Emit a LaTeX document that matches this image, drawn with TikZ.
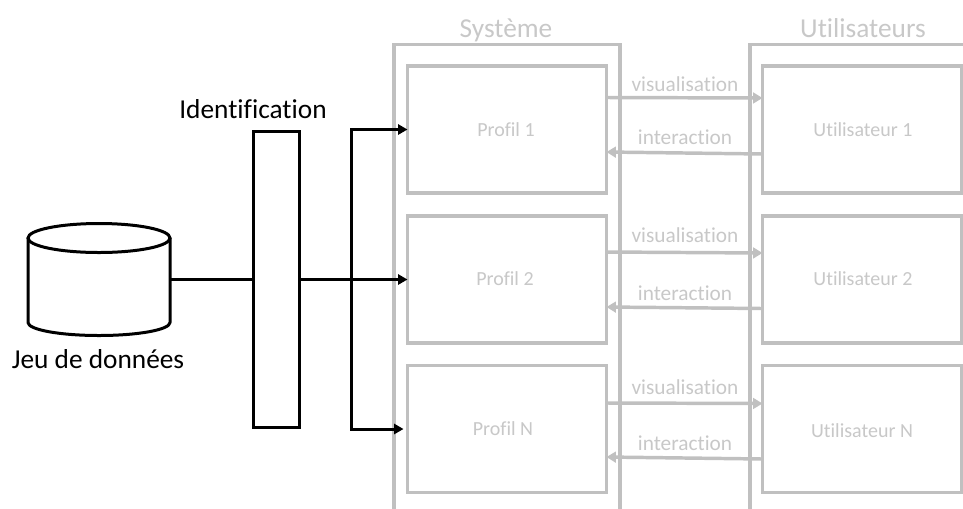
\documentclass[tikz,border=0pt]{standalone}
\usepackage{fontspec}
\setmainfont{Carlito}[RawFeature={-liga}]
\usetikzlibrary{arrows.meta}
\definecolor{ligne}{HTML}{C0C0C0}
\definecolor{texte}{HTML}{C8C8C8}
\tikzset{
  x=0.75pt,y=-0.75pt,
  inner sep=0pt,outer sep=0pt,
  noir/.style={draw=black,line width=2.25pt},
  gris/.style={draw=ligne,line width=2.6pt},
  boite/.style={gris,fill=white,minimum width=199*0.75pt,minimum height=127*0.75pt},
  nomboite/.style={text=texte,font=\fontsize{15}{18}\selectfont},
  etiq/.style={text=texte,font=\fontsize{16}{19}\selectfont},
  titre/.style={text=texte,anchor=base,font=\fontsize{20.5}{24}\selectfont},
  grand/.style={text=black,anchor=base,font=\fontsize{20.5}{24}\selectfont},
  fnoir/.style={noir,-{Triangle[length=7pt,width=7.5pt]}},
  fgris/.style={gris,-{Triangle[length=7pt,width=8pt]}},
}
\begin{document}
\begin{tikzpicture}
\useasboundingbox (0,0) rectangle (963,508);
% outer frames (open at the picture's edges)
\coordinate (sysBL) at (394,520);
\coordinate (sysTL) at (394,44.5);
\coordinate (sysTR) at (620,44.5);
\coordinate (sysBR) at (620,520);
\coordinate (usrBL) at (750,520);
\coordinate (usrTL) at (750,44.5);
\coordinate (usrTR) at (975,44.5);
\draw[gris] (sysBL) -- (sysTL) -- (sysTR) -- (sysBR);
\draw[gris] (usrBL) -- (usrTL) -- (usrTR);
\node[titre] (tsys) at (506,37) {Système};
\node[titre] (tusr) at (863,37) {Utilisateurs};
% inner boxes
\node[boite] (p1) at (507,129.5) {};
\node[boite] (p2) at (507,279.5) {};
\node[boite] (pn) at (507,429) {};
\node[boite] (u1) at (862,129.5) {};
\node[boite] (u2) at (862,279.5) {};
\node[boite] (un) at (862,429) {};
\node[nomboite] (lp1) at (506,130) {Profil 1};
\node[nomboite] (lp2) at (505,279) {Profil 2};
\node[nomboite] (lpn) at (503,429) {Profil N};
\node[nomboite] (lu1) at (863,130) {Utilisateur 1};
\node[nomboite] (lu2) at (863,279) {Utilisateur 2};
\node[nomboite] (lun) at (862,431) {Utilisateur N};
% grey connectors
\draw[fgris] ([yshift=32*0.75pt]p1.east) -- ([yshift=31.5*0.75pt]u1.west);
\draw[fgris] ([yshift=-24.5*0.75pt]u1.west) -- ([yshift=-22.5*0.75pt]p1.east);
\draw[fgris] ([yshift=27.5*0.75pt]p2.east) -- ([yshift=26.5*0.75pt]u2.west);
\draw[fgris] ([yshift=-29*0.75pt]u2.west) -- ([yshift=-27.5*0.75pt]p2.east);
\draw[fgris] ([yshift=26*0.75pt]pn.east) -- ([yshift=25.5*0.75pt]un.west);
\draw[fgris] ([yshift=-30*0.75pt]un.west) -- ([yshift=-28*0.75pt]pn.east);
\node[etiq] (v1) at (685,84) {visualisation};
\node[etiq] (i1) at (685,137) {interaction};
\node[etiq] (v2) at (685,235) {visualisation};
\node[etiq] (i2) at (685,293) {interaction};
\node[etiq] (vn) at (685,387) {visualisation};
\node[etiq] (in) at (685,443) {interaction};
% data set drawn as a cylinder inside its node's frame
\node[minimum width=142*0.75pt,minimum height=112*0.75pt] (db) at (99,279.5) {};
\draw[noir,line join=round,fill=white]
  ([yshift=-14.5*0.75pt]db.north east) -- ([yshift=13*0.75pt]db.south east)
  arc[start angle=0,end angle=-180,x radius=53.25pt,y radius=9.75pt]
  -- ([yshift=-14.5*0.75pt]db.north west);
\draw[noir,fill=white] ([yshift=-14.5*0.75pt]db.north) ellipse[x radius=53.25pt,y radius=10.875pt];
\node[noir,fill=white,minimum width=46*0.75pt,minimum height=296*0.75pt] (idf) at (276,279.5) {};
\node[grand] (tidf) at (253,118) {Identification};
\node[grand] (tdb) at (98,368) {Jeu de données};
\coordinate (j) at (351,279.5);
\draw[noir] (db.east) -- (idf.west);
\draw[fnoir] (idf.east) -- (p2.west);
\draw[fnoir] (j) |- (p1.west);
\draw[fnoir,shorten >=3pt] (j) |- (pn.west);
\end{tikzpicture}
\end{document}
